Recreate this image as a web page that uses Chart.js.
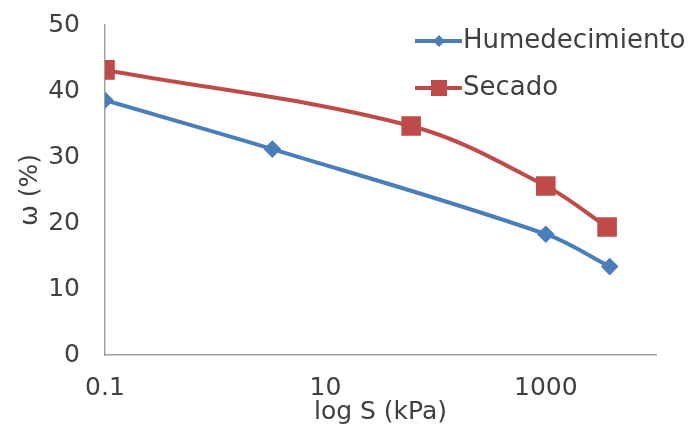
<!DOCTYPE html>
<html>
<head>
<meta charset="utf-8">
<script src="https://cdn.jsdelivr.net/npm/chart.js@4.4.0/dist/chart.umd.min.js"></script>
<style>
  html,body{margin:0;padding:0;background:#fff;}
  #wrap{width:692px;height:434px;}
</style>
</head>
<body>
<div id="wrap"><canvas id="c" width="692" height="434"></canvas></div>
<script>
// data
const humLabel="Humedecimiento";
const humX=[0.1, 3.3, 1000, 3800];
const humY=[38.6, 31.2, 18.3, 13.4];

const secLabel="Secado";
const secX=[0.1, 60, 1000, 3600];
const secY=[43.2, 34.7, 25.6, 19.4];

const xTicks=[0.1, 10, 1000];
const yTicks=[0, 10, 20, 30, 40, 50];

const blue="#4a7ebb";
const red="#be4b48";
const textColor="#404040";
const fontFam="'DejaVu Sans', Verdana, sans-serif";

function pts(xs,ys){
    return xs.map((x,i)=>({x:x,y:ys[i]}));
}

// legend drawn by hand so it can sit over the plot like in excel
const legendPlugin={
    id:"xlLegend",
    afterDraw(chart){
        const ctx=chart.ctx;
        const rows=[41,88];
        chart.data.datasets.forEach((ds,i)=>{
            const y=rows[i];
            ctx.save();
            ctx.strokeStyle=ds.borderColor;
            ctx.lineWidth=4;
            ctx.beginPath();
            ctx.moveTo(415,y);
            ctx.lineTo(462,y);
            ctx.stroke();
            ctx.fillStyle=ds.pointBackgroundColor;
            const cx=439;
            if(ds.pointStyle==="rect"){
                ctx.fillRect(cx-8,y-8,16,16);
            }else{
                ctx.beginPath();
                ctx.moveTo(cx,y-6);
                ctx.lineTo(cx+6,y);
                ctx.lineTo(cx,y+6);
                ctx.lineTo(cx-6,y);
                ctx.closePath();
                ctx.fill();
            }
            ctx.fillStyle=textColor;
            ctx.font="26px "+fontFam;
            ctx.textBaseline="middle";
            ctx.textAlign="left";
            ctx.fillText(ds.label,463,y);
            ctx.restore();
        });
    }
};

new Chart(document.getElementById("c"),{
    type:"line",
    data:{
        datasets:[
            {
                label:humLabel,
                data:pts(humX,humY),
                borderColor:blue,
                backgroundColor:blue,
                pointBackgroundColor:blue,
                pointBorderColor:blue,
                pointStyle:"rectRot",
                pointRadius:6,
                borderWidth:4,
                tension:0.35
            },
            {
                label:secLabel,
                data:pts(secX,secY),
                borderColor:red,
                backgroundColor:red,
                pointBackgroundColor:red,
                pointBorderColor:red,
                pointStyle:"rect",
                pointRadius:11,
                borderWidth:4,
                tension:0.35
            }
        ]
    },
    options:{
        responsive:false,
        animation:false,
        layout:{padding:{top:25,right:36,left:0,bottom:0}},
        plugins:{legend:{display:false},tooltip:{enabled:false}},
        scales:{
            x:{
                type:"logarithmic",
                min:0.1,
                max:10000,
                afterBuildTicks:s=>{s.ticks=xTicks.map(v=>({value:v}));},
                afterFit:s=>{s.height=79;s.paddingLeft=0;s.paddingRight=0;},
                grid:{display:false},
                border:{display:true,color:"#a0a0a0",width:1.5},
                ticks:{
                    color:textColor,
                    font:{family:fontFam,size:25},
                    padding:10,
                    maxRotation:0,
                    autoSkip:false,
                    callback:v=>String(v)
                },
                title:{
                    display:true,
                    text:"log S (kPa)",
                    color:textColor,
                    font:{family:fontFam,size:25},
                    padding:{top:0,bottom:7}
                }
            },
            y:{
                min:0,
                max:50,
                afterBuildTicks:s=>{s.ticks=yTicks.map(v=>({value:v}));},
                afterFit:s=>{s.width=105;s.paddingTop=0;s.paddingBottom=0;},
                grid:{display:false},
                border:{display:true,color:"#a0a0a0",width:1.5},
                ticks:{
                    color:textColor,
                    font:{family:fontFam,size:25},
                    padding:17
                },
                title:{
                    display:true,
                    text:"ω (%)",
                    color:textColor,
                    font:{family:fontFam,size:25},
                    padding:{top:15,bottom:0}
                }
            }
        }
    },
    plugins:[legendPlugin]
});
</script>
</body>
</html>
